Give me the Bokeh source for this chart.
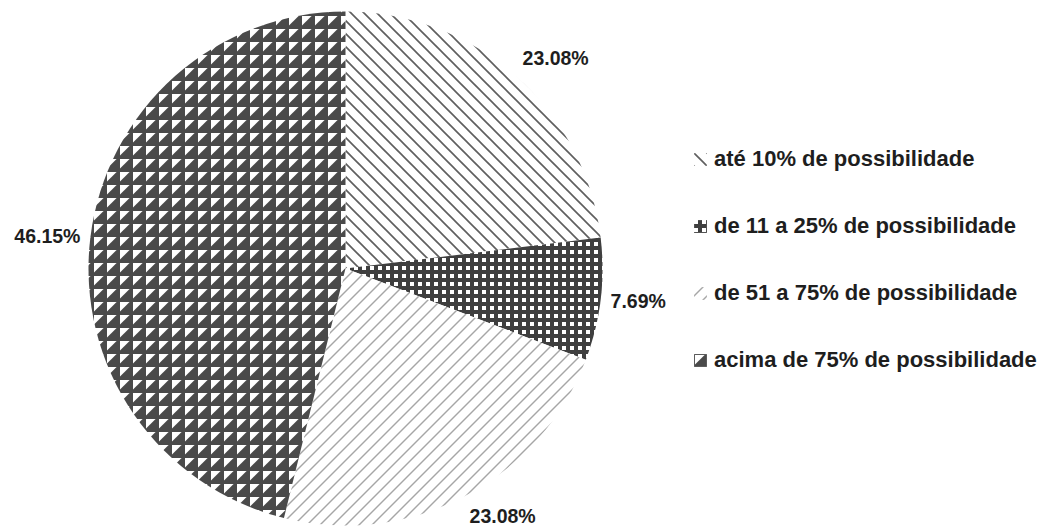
import base64
import numpy as np
from bokeh.plotting import figure
from bokeh.models import Range1d, ImageURLTexture, ColumnDataSource
from bokeh.core.properties import value
from bokeh.embed import file_html
from bokeh.resources import INLINE

# Survey answers and their shares (%)
categories = [
    "até 10% de possibilidade",
    "de 11 a 25% de possibilidade",
    "de 51 a 75% de possibilidade",
    "acima de 75% de possibilidade",
]
shares = [23.08, 7.69, 23.08, 46.15]
share_labels = ["23.08%", "7.69%", "23.08%", "46.15%"]

W, H = 1059, 527
CX, CY, R = 345, H - 268, 257


def svg_tile(size, body):
    """Wrap an SVG fragment into a repeating image texture."""
    svg = (f'<svg xmlns="http://www.w3.org/2000/svg" width="{size}" height="{size}">'
           f'{body}</svg>')
    return ImageURLTexture(
        url="data:image/svg+xml;base64," + base64.b64encode(svg.encode()).decode()
    )


def diag_tile(size, color, width, rising):
    """Seamless 45 degree line tile, rising ('/') or falling ('\\')."""
    s = size
    if rising:
        segs = [(-1, s + 1, s + 1, -1), (-1, 1, 1, -1), (s - 1, s + 1, s + 1, s - 1)]
    else:
        segs = [(-1, -1, s + 1, s + 1), (-1, s - 1, 1, s + 1), (s - 1, -1, s + 1, 1)]
    body = "".join(
        f'<line x1="{a}" y1="{b}" x2="{c}" y2="{d}" stroke="{color}" stroke-width="{width}"/>'
        for a, b, c, d in segs
    )
    return svg_tile(s, body)


textures = {
    "falling": diag_tile(13, "#5f5f5f", 1.7, rising=False),
    "checker": svg_tile(8, '<rect width="8" height="8" fill="#3f3f3f"/>'
                           '<rect x="2" y="2" width="4" height="4" fill="#ffffff"/>'),
    "rising": diag_tile(13, "#a6a6a6", 1.4, rising=True),
    "triangles": svg_tile(13, '<rect width="13" height="13" fill="#4a4a4a"/>'
                              '<polygon points="3,3 12.6,3 3,12.6" fill="#ffffff"/>'),
}

frac = np.array(shares) / sum(shares)
cum = np.concatenate([[0], np.cumsum(frac)])
start = np.pi / 2 - 2 * np.pi * cum[:-1]
end = np.pi / 2 - 2 * np.pi * cum[1:]
mid = (start + end) / 2

src = ColumnDataSource(dict(
    category=categories,
    start=start,
    end=end,
    hatch=["falling", "checker", "rising", "triangles"],
))

p = figure(width=W, height=H, x_range=Range1d(0, W), y_range=Range1d(0, H),
           x_axis_type=None, y_axis_type=None, output_backend="svg",
           toolbar_location=None, min_border=0)
p.grid.visible = False
p.outline_line_color = None
p.background_fill_color = "white"

p.wedge(x=CX, y=CY, radius=R, start_angle="start", end_angle="end",
        direction="clock", source=src, fill_color="white", line_color=None,
        hatch_pattern="hatch", hatch_extra=textures,
        legend_field="category")

# Percentage labels just outside each slice
off = R + 10
lx = CX + off * np.cos(mid)
ly = CY + off * np.sin(mid)
align = ["left" if c >= 0 else "right" for c in np.cos(mid)]
base = ["bottom" if s > 0.3 else ("top" if s < -0.3 else "middle") for s in np.sin(mid)]
lab = ColumnDataSource(dict(x=lx, y=ly, t=share_labels, a=align, b=base))
p.text(x="x", y="y", text="t", text_align="a", text_baseline="b", source=lab,
       text_font=value("Liberation Sans"), text_font_style="bold",
       text_font_size="19.5px", text_color="#1e1e1e")

lg = p.legend[0]
lg.location = (692, 154)
lg.padding = 0
lg.margin = 0
lg.border_line_color = None
lg.background_fill_alpha = 0
lg.glyph_width = 16
lg.glyph_height = 16
lg.label_standoff = 6
lg.spacing = 41
lg.label_text_font = "Liberation Sans"
lg.label_text_font_style = "bold"
lg.label_text_font_size = "22px"
lg.label_text_color = "#1e1e1e"

open("out.html", "w").write(file_html(p, INLINE))
